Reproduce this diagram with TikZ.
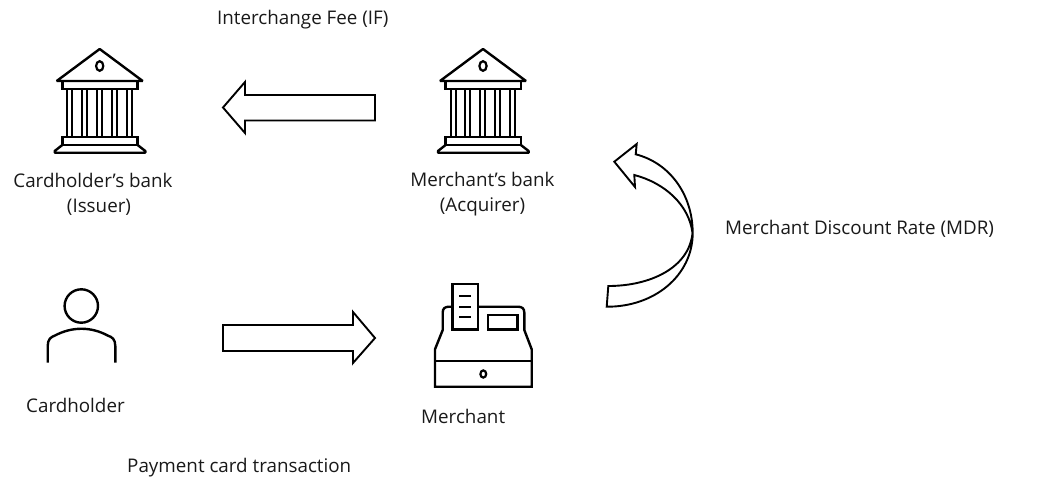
\documentclass[tikz,border=0pt]{standalone}
\usepackage{fontspec}
\setmainfont{Open Sans}
\begin{document}
\begin{tikzpicture}[x=1pt,y=-1pt,
  icon/.style={draw=black,line width=2.4pt,line join=miter},
  thinline/.style={draw=black,line width=2.2pt},
  blockarrow/.style={draw=black,fill=white,line width=1.9pt,line join=miter},
  label/.style={font=\fontsize{18.8}{25}\selectfont,inner sep=0pt,text=black!90},
  bank/.pic={
    \draw[icon,line join=bevel] (-43,33) -- (0,1) -- (43,33) -- cycle;
    \draw[icon] (-37.4,33) rectangle (37.9,41);
    \draw[thinline] (0,18) ellipse (3.6 and 4.8);
    \foreach \cx in {-32.4,-27.4,-18,-13,-3,2,12,17,27,32}{\draw[thinline] (\cx,41) -- (\cx,88.7);}
    \draw[icon] (-37.4,88.7) rectangle (37.9,97);
    \draw[icon,line join=bevel] (-37.4,97) -- (-45,103) -- (-45,104.7) -- (45.6,104.7) -- (45.6,103) -- (37.9,97);
  }]
\useasboundingbox (0,0) rectangle (1056,490);
% banks
\pic (issuer) at (99.7,48) {bank};
\pic (acquirer) at (483,48) {bank};
% cardholder
\coordinate (cardholderIcon) at (81.3,306);
\draw[icon] (cardholderIcon) circle (16.7);
\draw[icon] (47.7,362.7) -- (47.7,346) .. controls (47.7,339) and (51,337) .. (55,335.5) .. controls (72,326.5) and (91,326.5) .. (107.6,335.5) .. controls (112,337) and (115.3,339) .. (115.3,346) -- (115.3,362.7);
% register
\draw[icon] (452.3,306.7) -- (449,306.7) .. controls (445,306.7) and (442.7,308.5) .. (442.7,312.5) -- (442.7,330) -- (435,349.3) -- (435,386.7) -- (531.7,386.7) -- (531.7,349.3) -- (524.3,330) -- (524.3,312.5) .. controls (524.3,308.5) and (522,306.7) .. (518,306.7) -- (477.7,306.7);
\draw[icon] (452.3,284) rectangle (477.7,329.3);
\draw[thinline] (459,295.7) -- (471,295.7) (459,306.7) -- (471,306.7) (459,317) -- (471,317);
\draw[icon] (488,315) rectangle (517.3,329.3);
\draw[icon] (435,360.7) -- (531.7,360.7);
\draw[thinline] (483.3,374) ellipse (2.9 and 3.6);
% block arrows
\draw[blockarrow] (223,107.5) -- (245,82) -- (245,95) -- (375,95) -- (375,120.5) -- (245,120.5) -- (245,133) -- cycle;
\draw[blockarrow] (375,338) -- (353,312) -- (353,325) -- (223,325) -- (223,351) -- (353,351) -- (353,363) -- cycle;
\draw[blockarrow] (606.7,306.7) -- (608.3,286) .. controls (650,286) and (689,268) .. (692.5,233) .. controls (689,205) and (665,183) .. (634.3,175) -- (635,187) -- (614.3,161.7) -- (636.7,144) -- (635.7,154.3) .. controls (670,163) and (692.7,195) .. (692.7,233) .. controls (692.7,275) and (655,307) .. cycle;
% labels
\node[label,anchor=west] (ifl) at (217,20) {Interchange Fee (IF)};
\node[label,anchor=center,align=center] (issuerl) at (93,194) {Cardholder’s bank\\\hspace*{12pt}(Issuer)};
\node[label,anchor=center,align=center] (acquirerl) at (482.5,194) {Merchant’s bank\\(Acquirer)};
\node[label,anchor=west] (mdrl) at (725,229) {Merchant Discount Rate (MDR)};
\node[label,anchor=west] (cardl) at (26,405) {Cardholder};
\node[label,anchor=west] (merl) at (421,416) {Merchant};
\node[label,anchor=west] (payl) at (127,468) {Payment card transaction};
\end{tikzpicture}
\end{document}
